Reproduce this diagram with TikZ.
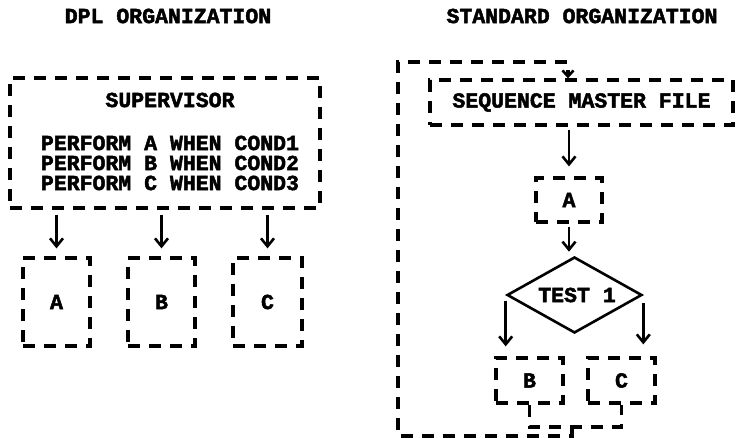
\documentclass[tikz,border=0pt]{standalone}
\usepackage{fontspec}
\setmonofont[BoldFeatures={FakeBold=2.2}]{Liberation Mono}
\usetikzlibrary{shapes.geometric,arrows.meta}
\begin{document}
\begin{tikzpicture}[x=1pt,y=-1pt,
  txt/.style={font=\ttfamily\bfseries\fontsize{21.5}{20}\selectfont, inner sep=0pt},
  dline/.style={line width=3.2pt, dash pattern=on 12pt off 9pt},
  dbox/.style={dline, draw, inner sep=0pt},
  arr/.style={line width=2.6pt, -{Straight Barb[length=8pt,width=13pt,line width=2.6pt]}},
  darr/.style={dline, -{Straight Barb[length=6pt,width=11pt,line width=2.6pt]}}]
\useasboundingbox (0,0) rectangle (740,438);

% titles
\node[txt] (t1) at (168,16) {DPL ORGANIZATION};
\node[txt] (t2) at (582,16) {STANDARD ORGANIZATION};

% ---------- DPL organization ----------
\node[dbox, minimum width=310pt, minimum height=130pt] (sup) at (165,143) {};
\node[txt] (suptitle) at (170,100) {SUPERVISOR};
\node[txt, align=left] (perf) at (170,163) {PERFORM A WHEN COND1\\PERFORM B WHEN COND2\\PERFORM C WHEN COND3};

\node[dbox, txt, draw, dline, minimum width=67pt, minimum height=88pt] (bA) at (56.5,302) {A};
\node[dbox, txt, draw, dline, minimum width=67pt, minimum height=88pt] (bB) at (161.5,302) {B};
\node[dbox, txt, draw, dline, minimum width=69pt, minimum height=88pt] (bC) at (267.5,302) {C};

\draw[arr, shorten <=5pt, shorten >=8pt] (bA.north |- sup.south) -- (bA.north);
\draw[arr, shorten <=5pt, shorten >=8pt] (bB.north |- sup.south) -- (bB.north);
\draw[arr, shorten <=5pt, shorten >=8pt] (bC.north |- sup.south) -- (bC.north);

% ---------- Standard organization ----------
\node[dbox, txt, draw, dline, minimum width=303pt, minimum height=45pt] (smf) at (581.5,102.5) {SEQUENCE MASTER FILE};
\node[dbox, txt, draw, dline, minimum width=66pt, minimum height=44pt] (rA) at (569,200) {A};
\node[draw, diamond, line width=2.6pt, inner sep=0pt, minimum width=135pt, minimum height=76pt, aspect=1.78] (dia) at (574.5,295) {};
\node[txt] (test) at (577,295) {TEST 1};
\node[dbox, txt, draw, dline, minimum width=67pt, minimum height=45pt] (rB) at (529.5,380.5) {B};
\node[dbox, txt, draw, dline, minimum width=67pt, minimum height=45pt] (rC) at (621.5,380.5) {C};

\draw[arr, shorten <=3pt, shorten >=10pt] (rA.north |- smf.south) -- (rA.north);
\draw[arr, shorten <=3pt, shorten >=4pt] (rA.south) -- (rA.south |- dia.north);
\draw[arr, shorten <=6pt, shorten >=10pt] (dia.west) -- (dia.west |- rB.north);
\draw[arr, shorten <=8pt, shorten >=12pt] (dia.east) -- (dia.east |- rC.north);

% join and loop back
\coordinate (j) at (572,427);
\coordinate (jb) at (572,436);
\coordinate (lb) at (398,436);
\coordinate (lt) at (398,62);
\coordinate (rt) at (568,62);
\draw[dline] (rB.south) -- (rB.south |- j) -- (rC.south |- j) -- (rC.south);
\draw[darr] (j) -- (jb) -- (lb) -- (lt) -- (rt) -- (rt |- smf.north);
\end{tikzpicture}
\end{document}
